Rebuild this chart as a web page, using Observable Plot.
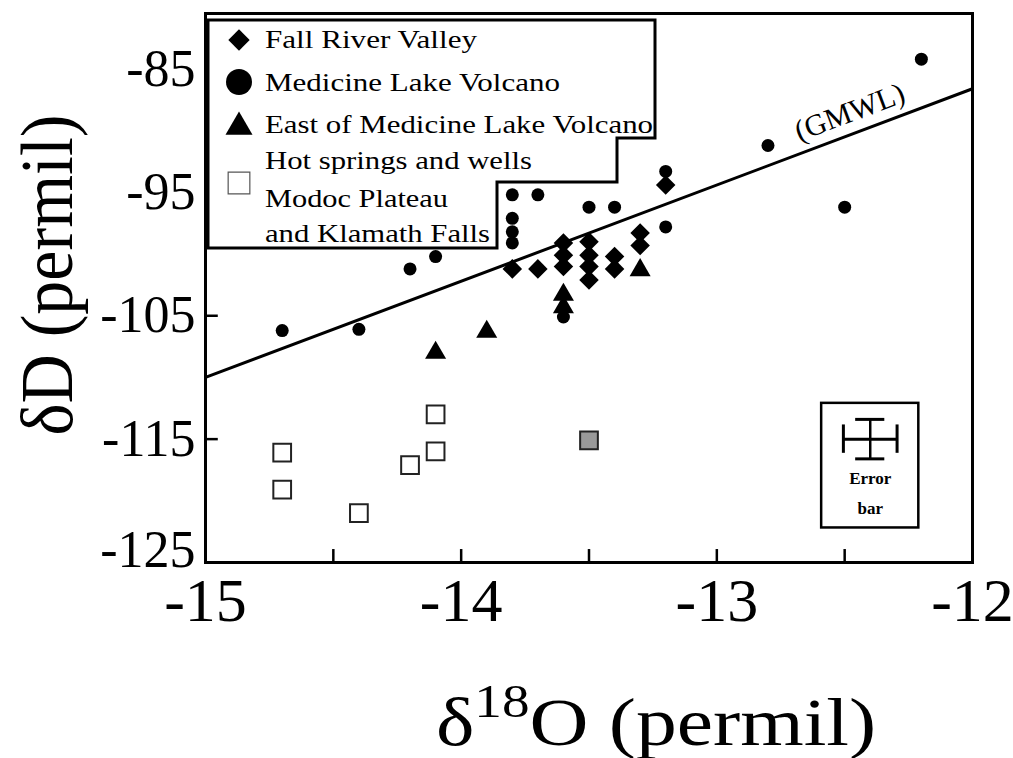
<!DOCTYPE html>
<html><head><meta charset="utf-8">
<script src="https://cdn.jsdelivr.net/npm/d3@7"></script>
<script src="https://cdn.jsdelivr.net/npm/@observablehq/plot@0.6"></script>
<style>
body{margin:0;background:#fff}
svg{font-family:"Liberation Serif","Times New Roman",serif}
</style>
</head><body><div id="chart"></div>
<script>
// ---- data ----
const fallRiverX = [-13.8,-13.7,-13.6,-13.6,-13.6,-13.5,-13.5,-13.5,-13.5,-13.4,-13.4,-13.3,-13.3,-13.2];
const fallRiverY = [-101.2,-101.2,-99.1,-100.1,-101.0,-99.0,-100.1,-101.0,-102.1,-100.2,-101.2,-98.3,-99.3,-94.4];
const medicineX = [-14.7,-14.4,-14.2,-14.1,-13.8,-13.8,-13.8,-13.8,-13.7,-13.6,-13.5,-13.4,-13.2,-13.2,-12.8,-12.5,-12.2];
const medicineY = [-106.2,-106.1,-101.2,-100.2,-95.2,-97.1,-98.2,-99.1,-95.2,-105.1,-96.2,-96.2,-93.3,-97.8,-91.2,-96.2,-84.2];
const eastX = [-14.1,-13.9,-13.6,-13.6,-13.3];
const eastY = [-108.0,-106.3,-103.3,-104.3,-101.3];
const hotX = [-14.7,-14.7,-14.4,-14.2,-14.1,-14.1];
const hotY = [-116.1,-119.1,-121.0,-117.1,-113.0,-116.0];
const hotShadedX = [-13.5];
const hotShadedY = [-115.1];
const gmwlX = [-15,-12];
const gmwlY = [-110,-86.6];
const xTickLabels = [-15,-14,-13,-12];
const xTickMarks = [-14.5,-14,-13.5,-13,-12.5];
const yTickLabels = [-85,-95,-105,-115];
const yBottomLabel = [-125];
const yTickMarks = [-85,-95,-105,-115];
const errCenter = {x: -12.4, y: -115.0, dx: 0.105, dy: 1.6};
const errBox = {x1: -12.59, x2: -12.21, y1: -112.1, y2: -122.2};
const legendLabels = ["Fall River Valley","Medicine Lake Volcano","East of Medicine Lake Volcano","Hot springs and wells","Modoc Plateau","and Klamath Falls"];

const zip = (xs, ys) => xs.map((x, i) => ({x, y: ys[i]}));
const fallRiver = zip(fallRiverX, fallRiverY);
const medicine = zip(medicineX, medicineY);
const east = zip(eastX, eastY);
const hot = zip(hotX, hotY);
const hotShaded = zip(hotShadedX, hotShadedY);
const gmwl = zip(gmwlX, gmwlY);
const fmt = d => "-" + Math.abs(d);

const plot = Plot.plot({
  width: 1013, height: 758,
  marginLeft: 205, marginRight: 41, marginTop: 13, marginBottom: 196,
  x: {domain: [-15, -12]},
  y: {domain: [-125, -80.5]},
  style: {fontFamily: "Liberation Serif, Times New Roman, serif", color: "black", background: "white"},
  marks: [
    Plot.axisX({ticks: xTickLabels, tickSize: 0, tickPadding: 14, fontSize: 62, tickFormat: fmt, label: null}),
    Plot.axisY({ticks: yTickLabels, tickSize: 0, tickPadding: 10, fontSize: 52, tickFormat: fmt, label: null}),
    Plot.axisY({ticks: yBottomLabel, tickSize: 0, tickPadding: 10, fontSize: 52, tickFormat: fmt, label: null, dy: -12}),
    Plot.ruleX(xTickMarks, {x: d => d, y1: -125, y2: -123.95, stroke: "black", strokeWidth: 2.5}),
    Plot.ruleY(yTickMarks, {y: d => d, x1: -15, x2: -14.95, stroke: "black", strokeWidth: 2.5}),
    Plot.line(gmwl, {x: "x", y: "y", stroke: "black", strokeWidth: 3}),
    Plot.text([{x: -12.48, y: -88.5}], {x: "x", y: "y", text: () => "(GMWL)", rotate: -20.6, fontSize: 30, fill: "black"}),
    Plot.dot(hot, {x: "x", y: "y", symbol: "square", r: 10, fill: "white", stroke: "#222", strokeWidth: 2}),
    Plot.dot(hotShaded, {x: "x", y: "y", symbol: "square", r: 10, fill: "#999", stroke: "#222", strokeWidth: 2}),
    Plot.dot(medicine, {x: "x", y: "y", symbol: "circle", r: 6.5, fill: "black"}),
    Plot.dot(east, {x: "x", y: "y", symbol: "triangle", r: 7.8, fill: "black"}),
    Plot.dot(fallRiver, {x: "x", y: "y", symbol: "diamond2", r: 8.8, fill: "black"}),
    // error bar inset
    Plot.rect([errBox], {x1: "x1", x2: "x2", y1: "y1", y2: "y2", fill: "white", stroke: "black", strokeWidth: 2.5}),
    Plot.ruleY([errCenter], {y: "y", x1: d => d.x - d.dx, x2: d => d.x + d.dx, stroke: "black", strokeWidth: 3}),
    Plot.ruleX([errCenter], {x: "x", y1: d => d.y - d.dy, y2: d => d.y + d.dy, stroke: "black", strokeWidth: 2.5}),
    Plot.ruleX([errCenter], {x: d => d.x - d.dx, y1: d => d.y - 1.15, y2: d => d.y + 1.15, stroke: "black", strokeWidth: 3}),
    Plot.ruleX([errCenter], {x: d => d.x + d.dx, y1: d => d.y - 1.15, y2: d => d.y + 1.15, stroke: "black", strokeWidth: 3}),
    Plot.ruleY([errCenter], {y: d => d.y + d.dy, x1: d => d.x - 0.057, x2: d => d.x + 0.057, stroke: "black", strokeWidth: 3}),
    Plot.ruleY([errCenter], {y: d => d.y - d.dy, x1: d => d.x - 0.057, x2: d => d.x + 0.057, stroke: "black", strokeWidth: 3}),
    Plot.text([{x: errCenter.x, y: -118.2, t: "Error"}, {x: errCenter.x, y: -120.6, t: "bar"}],
      {x: "x", y: "y", text: "t", fontSize: 17, fontWeight: "bold", fill: "black"}),
    Plot.frame({stroke: "black", strokeWidth: 3})
  ]
});
document.getElementById("chart").append(plot);

const svg = d3.select(plot);
// legend (stepped box)
const lg = svg.append("g").attr("text-anchor", "start");
lg.append("path")
  .attr("d", "M208,20 H655 V138 H617 V182 H497 V248 H208 Z")
  .attr("fill", "white").attr("stroke", "black").attr("stroke-width", 3);
const symbols = [
  {t: d3.symbolDiamond2, size: 290, y: 40, fill: "black", stroke: "none"},
  {t: d3.symbolCircle, size: 530, y: 82, fill: "black", stroke: "none"},
  {t: d3.symbolTriangle, size: 316, y: 127, fill: "black", stroke: "none"},
  {t: d3.symbolSquare, size: 470, y: 183, fill: "white", stroke: "#555"}
];
symbols.forEach(s => {
  lg.append("path").attr("d", d3.symbol(s.t, s.size)())
    .attr("transform", `translate(239,${s.y})`)
    .attr("fill", s.fill).attr("stroke", s.stroke).attr("stroke-width", 1.2);
});
const baselines = [48, 91, 133, 169, 207, 242];
const lengths = [212, 295, 388, 267, 183, 225];
legendLabels.forEach((t, i) => {
  lg.append("text").attr("x", 265).attr("y", baselines[i]).attr("text-anchor", "start")
    .attr("font-size", 26).attr("textLength", lengths[i]).attr("lengthAdjust", "spacingAndGlyphs")
    .attr("fill", "black").text(t);
});
// axis titles
const xt = svg.append("text").attr("transform", "translate(656,745) scale(1.2,1)")
  .attr("text-anchor", "middle").attr("font-size", 68).attr("fill", "black");
xt.append("tspan").text("δ");
xt.append("tspan").attr("font-size", 46).attr("dy", -28).text("18");
xt.append("tspan").attr("dy", 28).text("O (permil)");
svg.append("text").attr("transform", "translate(72,275) scale(1.08,1) rotate(-90)")
  .attr("text-anchor", "middle").attr("font-size", 68).attr("fill", "black").text("δD (permil)");
</script>
</body></html>
